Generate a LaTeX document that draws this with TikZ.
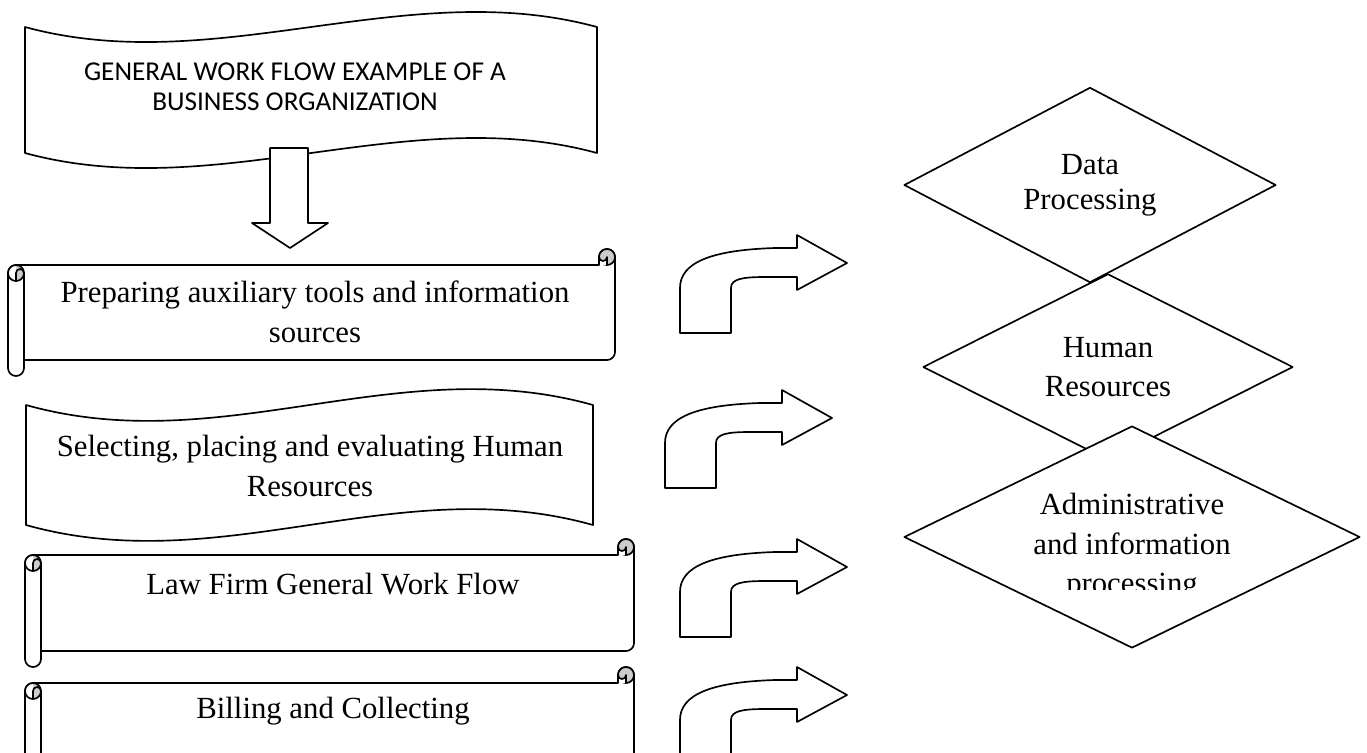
\documentclass[tikz,border=0pt]{standalone}
\usepackage{fontspec}
\setmainfont{Liberation Serif}
\newfontfamily\capsfont{Carlito}
\usetikzlibrary{shapes.geometric}

% scroll banner: #1 left, #2 top of the curl, #3 right, #4 bottom of the roll
\newcommand{\scrollshape}[4]{%
  \draw[outline] (#1,{#2+24}) arc[start angle=180, end angle=270, radius=8]
    -- ({#3-16},{#2+16}) -- ({#3-16},{#2+8})
    arc[start angle=180, end angle=360, radius=8]
    -- (#3,{#4-24}) arc[start angle=0, end angle=90, radius=8]
    -- ({#1+16},{#4-16}) -- ({#1+16},{#4-8})
    arc[start angle=0, end angle=180, radius=8] -- cycle;
  \draw[outline] ({#1+16},{#2+24}) -- ({#1+16},{#4-16});
  % left roll
  \fill[curl] ({#1+8},{#2+24}) circle[radius=8];
  \fill[white] ({#1+8},{#2+16}) arc[start angle=270, end angle=90, radius=8] -- cycle;
  \draw[outline, fill=none] ({#1+8},{#2+24}) circle[radius=8];
  \draw[outline, fill=none] ({#1+8},{#2+32}) -- ({#1+8},{#2+24})
    arc[start angle=180, end angle=360, radius=4];
  % right roll
  \filldraw[outline, curl] ({#3-8},{#2+8}) circle[radius=8];
  \draw[outline] ({#3-8},{#2+16}) -- ({#3-8},{#2+8})
    arc[start angle=0, end angle=180, radius=4] -- ({#3-16},{#2+16});
}

\begin{document}
\begin{tikzpicture}[x=0.02cm, y=-0.02cm,
    outline/.style={draw, line width=0.95pt, fill=white, line join=round},
    curl/.style={fill=black!20},
    boxtext/.style={font=\fontsize{17.5}{22.5}\selectfont, align=center, inner sep=0pt},
    decision/.style={shape=diamond, outline, inner sep=0pt, align=center,
      font=\fontsize{17.5}{22.5}\selectfont},
    pics/bendarrow/.style={code={
      \draw[outline] (0,0) -- (51,0) -- (51,-45)
        .. controls (51,-54) and (62,-56) .. (85,-56) -- (117,-56)
        -- (117,-43) -- (167,-70) -- (117,-98) -- (117,-85) -- (95,-85)
        .. controls (30,-83) and (0,-70) .. (0,-45) -- cycle;}}]
  \useasboundingbox (0,0) rectangle (1367,752);
  \clip (0,0) rectangle (1367,752);

  % title banner with the arrow under it
  \draw[outline] (25,27) .. controls (215.7,79) and (406.3,-25) .. (597,27)
    -- (597,153) .. controls (406.3,101) and (215.7,205) .. (25,153) -- cycle;
  \node[boxtext, font=\capsfont\fontsize{15.5}{16.8}\selectfont] (title) at (295,87)
    {GENERAL WORK FLOW EXAMPLE OF A\\BUSINESS ORGANIZATION};
  \draw[outline] (270,148) -- (308,148) -- (308,223) -- (328,223) -- (290,248)
    -- (252,223) -- (270,223) -- cycle;

  % left column
  \scrollshape{8}{249}{615}{376}
  \node[boxtext] (prep) at (315,312) {Preparing auxiliary tools and information\\sources};

  \draw[outline] (26,405) .. controls (222,460) and (397,350) .. (593,405)
    -- (593,525) .. controls (397,470) and (222,580) .. (26,525) -- cycle;
  \node[boxtext] (select) at (310,466) {Selecting, placing and evaluating Human\\Resources};

  \scrollshape{25}{539}{634}{667}
  \node[boxtext] (lawfirm) at (333,584) {Law Firm General Work Flow};

  \scrollshape{25}{667}{634}{860}
  \node[boxtext] (billing) at (333,711) {Billing and Collecting};

  % bent arrows
  \pic at (680,333) {bendarrow};
  \pic at (665,488) {bendarrow};
  \pic at (680,637) {bendarrow};
  \pic at (680,765) {bendarrow};

  % right column
  \node[decision, minimum width=7.44cm, minimum height=3.68cm,
    font=\fontsize{17.5}{20}\selectfont] (dataproc) at (1090,185) {Data\\Processing};
  \node[decision, minimum width=7.4cm, minimum height=3.6cm] (humanres) at (1108,367)
    {Human\\Resources};
  \node[decision, minimum width=9.12cm, minimum height=4.44cm] (admin) at (1132,537) {};
  \begin{scope}
    \clip (900,420) rectangle (1367,589);
    \node[boxtext] (admintext) at (1132,547) {Administrative\\and information\\processing};
  \end{scope}
\end{tikzpicture}
\end{document}
